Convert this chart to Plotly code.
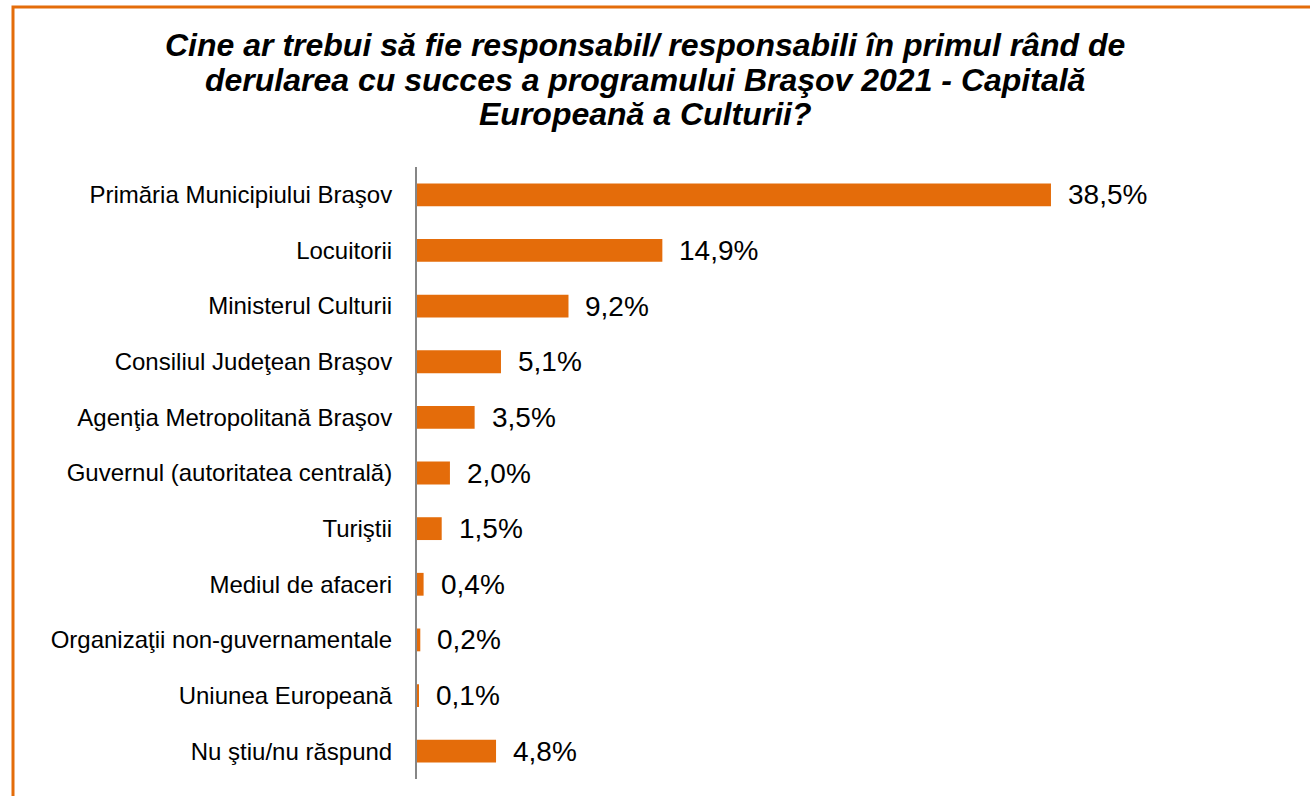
import plotly.graph_objects as go

# categorii si procente
categorii = [
    "Primăria Municipiului Braşov",
    "Locuitorii",
    "Ministerul Culturii",
    "Consiliul Judeţean Braşov",
    "Agenţia Metropolitană Braşov",
    "Guvernul (autoritatea centrală)",
    "Turiştii",
    "Mediul de afaceri",
    "Organizaţii non-guvernamentale",
    "Uniunea Europeană",
    "Nu ştiu/nu răspund",
]
procente = [38.5, 14.9, 9.2, 5.1, 3.5, 2.0, 1.5, 0.4, 0.2, 0.1, 4.8]
etichete = [f"{v:.1f}".replace(".", ",") + "%" for v in procente]

titlu = [
    "Cine ar trebui să fie responsabil/ responsabili în primul rând de",
    "derularea cu succes a programului Braşov 2021 - Capitală",
    "Europeană a Culturii?",
]

FONT = "Arial, Liberation Sans, sans-serif"
ORANGE = "#E46C0A"

W, H = 1310, 796
L, R, T, B = 417, 152, 167, 17
PW, PH = W - L - R, H - T - B


def px_x(x):
    return (x - L) / PW


def px_y(y):
    return (H - B - y) / PH


fig = go.Figure(
    go.Bar(
        x=procente, y=categorii, orientation="h",
        width=0.41, marker={"color": ORANGE, "line": {"width": 0}},
        hoverinfo="skip",
    )
)

# etichete valori
for c, v, t in zip(categorii, procente, etichete):
    fig.add_annotation(x=v, y=c, text=t, showarrow=False, xanchor="left",
                       xshift=15, font={"size": 28, "color": "#000000", "family": FONT})

# titlu, linie cu linie (spatiere mai stransa)
for i, linie in enumerate(titlu):
    fig.add_annotation(x=px_x(645), y=px_y(45 + 34.5 * i), xref="paper", yref="paper",
                       text=f"<b><i>{linie}</i></b>", showarrow=False,
                       xanchor="center", yanchor="middle",
                       font={"size": 32, "color": "#000000", "family": FONT})

# chenar portocaliu
fig.add_shape(type="rect", xref="paper", yref="paper",
              x0=px_x(13), x1=px_x(1330), y0=px_y(830), y1=px_y(7),
              line={"color": ORANGE, "width": 3}, fillcolor="rgba(0,0,0,0)", layer="below")

fig.update_layout(
    width=W, height=H,
    margin={"l": L, "r": R, "t": T, "b": B},
    paper_bgcolor="white", plot_bgcolor="white",
    font={"family": FONT, "color": "#000000"},
    showlegend=False,
    xaxis={"range": [0, 45], "visible": False, "showgrid": False, "zeroline": False},
    yaxis={"autorange": "reversed", "showgrid": False, "zeroline": False,
           "showline": True, "linecolor": "#868686", "linewidth": 2,
           "ticks": "", "ticklabelstandoff": 18,
           "tickfont": {"size": 24, "family": FONT, "color": "#000000"}},
)

fig.write_html("out.html", config={"displayModeBar": False},
               post_script="document.body.style.margin='0';")
